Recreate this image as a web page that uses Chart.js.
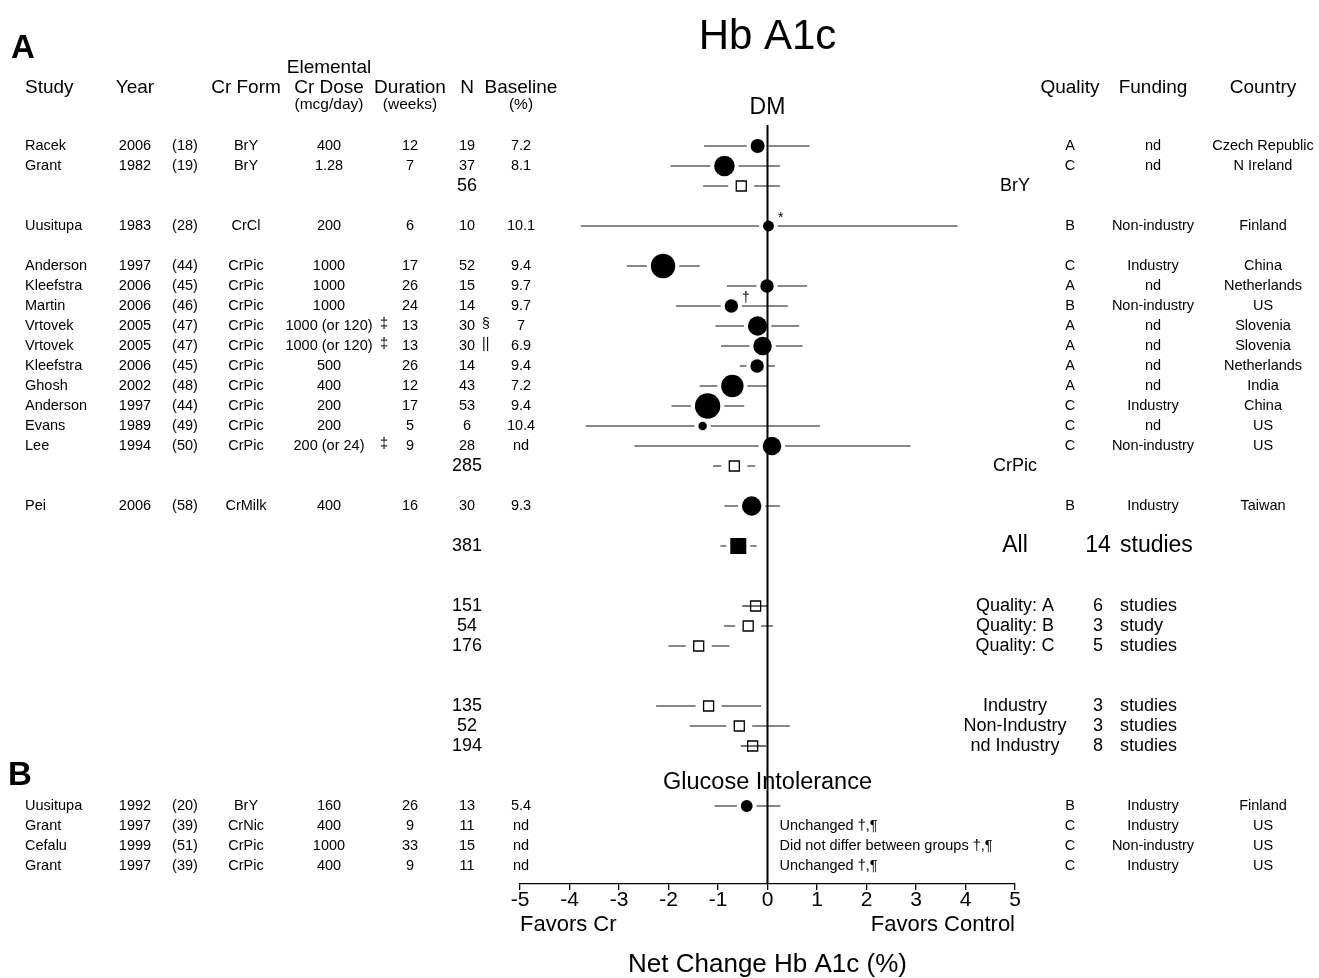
<!DOCTYPE html>
<html>
<head>
<meta charset="utf-8">
<script src="https://cdn.jsdelivr.net/npm/chart.js@4.4.1/dist/chart.umd.min.js"></script>
<style>
  html, body { margin: 0; background: #fff; }
  #wrap { width: 1319px; height: 978px; position: relative; }
</style>
</head>
<body>
<div id="wrap"><canvas id="forest"></canvas></div>
<script>
// ---- Panel A: DM studies, in plotted order ----
const dmStudy = ['Racek', 'Grant', 'Uusitupa', 'Anderson', 'Kleefstra', 'Martin', 'Vrtovek', 'Vrtovek', 'Kleefstra', 'Ghosh', 'Anderson', 'Evans', 'Lee', 'Pei'];
const dmYear = [2006, 1982, 1983, 1997, 2006, 2006, 2005, 2005, 2006, 2002, 1997, 1989, 1994, 2006];
const dmRef = [18, 19, 28, 44, 45, 46, 47, 47, 45, 48, 44, 49, 50, 58];
const dmForm = ['BrY', 'BrY', 'CrCl', 'CrPic', 'CrPic', 'CrPic', 'CrPic', 'CrPic', 'CrPic', 'CrPic', 'CrPic', 'CrPic', 'CrPic', 'CrMilk'];
const dmDose = ['400', '1.28', '200', '1000', '1000', '1000', '1000 (or 120)', '1000 (or 120)', '500', '400', '200', '200', '200 (or 24)', '400'];
const dmDoseNote = ['', '', '', '', '', '', '‡', '‡', '', '', '', '', '‡', ''];
const dmWeeks = [12, 7, 6, 17, 26, 24, 13, 13, 26, 12, 17, 5, 9, 16];
const dmN = [19, 37, 10, 52, 15, 14, 30, 30, 14, 43, 53, 6, 28, 30];
const dmNNote = ['', '', '', '', '', '', '§', '||', '', '', '', '', '', ''];
const dmBaseline = ['7.2', '8.1', '10.1', '9.4', '9.7', '9.7', '7', '6.9', '9.4', '7.2', '9.4', '10.4', 'nd', '9.3'];
const dmQuality = ['A', 'C', 'B', 'C', 'A', 'B', 'A', 'A', 'A', 'A', 'C', 'C', 'C', 'B'];
const dmFunding = ['nd', 'nd', 'Non-industry', 'Industry', 'nd', 'Non-industry', 'nd', 'nd', 'nd', 'nd', 'Industry', 'nd', 'Non-industry', 'Industry'];
const dmCountry = ['Czech Republic', 'N Ireland', 'Finland', 'China', 'Netherlands', 'US', 'Slovenia', 'Slovenia', 'Netherlands', 'India', 'China', 'US', 'US', 'Taiwan'];
const dmMean = [-0.2, -0.87, 0.02, -2.11, -0.01, -0.73, -0.2, -0.1, -0.21, -0.71, -1.21, -1.31, 0.09, -0.32];
const dmLow = [-1.28, -1.96, -3.77, -2.84, -0.82, -1.85, -1.05, -0.94, -0.56, -1.37, -1.94, -3.67, -2.69, -0.87];
const dmHigh = [0.85, 0.25, 3.84, -1.37, 0.8, 0.41, 0.64, 0.71, 0.15, 0.0, -0.47, 1.06, 2.89, 0.25];
const dmWeight = [49, 106, 30, 149, 45, 45, 94, 86, 45, 125, 161, 18, 86, 94]; // marker area
const dmMark = ['', '', '*', '', '', '†', '', '', '', '', '', '', '', ''];
const formOrder = ['BrY', 'CrCl', 'CrPic', 'CrMilk'];

// pooled by Cr form
const poolLabel = ['BrY', 'CrPic'];
const poolN = [56, 285];
const poolMean = [-0.53, -0.67];
const poolLow = [-1.3, -1.1];
const poolHigh = [0.25, -0.25];

// all studies
const allN = 381;
const allStudies = 14;
const allMean = -0.59;
const allLow = -0.95;
const allHigh = -0.22;

// subgroups
const subLabel = ['Quality: A', 'Quality: B', 'Quality: C', 'Industry', 'Non-Industry', 'nd Industry'];
const subBlock = [0, 0, 0, 1, 1, 1];
const subN = [151, 54, 176, 135, 52, 194];
const subCount = [6, 3, 5, 3, 3, 8];
const subWord = ['studies', 'study', 'studies', 'studies', 'studies', 'studies'];
const subMean = [-0.24, -0.39, -1.39, -1.19, -0.57, -0.3];
const subLow = [-0.51, -0.88, -2.0, -2.25, -1.57, -0.54];
const subHigh = [0.0, 0.11, -0.77, -0.13, 0.45, -0.03];

// ---- Panel B: glucose intolerance ----
const giStudy = ['Uusitupa', 'Grant', 'Cefalu', 'Grant'];
const giYear = [1992, 1997, 1999, 1997];
const giRef = [20, 39, 51, 39];
const giForm = ['BrY', 'CrNic', 'CrPic', 'CrPic'];
const giDose = ['160', '400', '1000', '400'];
const giWeeks = [26, 9, 33, 9];
const giN = [13, 11, 15, 11];
const giBaseline = ['5.4', 'nd', 'nd', 'nd'];
const giQuality = ['B', 'C', 'C', 'C'];
const giFunding = ['Industry', 'Industry', 'Non-industry', 'Industry'];
const giCountry = ['Finland', 'US', 'US', 'US'];
const giMean = [-0.42, null, null, null];
const giLow = [-1.07, null, null, null];
const giHigh = [0.26, null, null, null];
const giWeight = [35, 0, 0, 0];
const giNote = ['', 'Unchanged †,¶', 'Did not differ between groups †,¶', 'Unchanged †,¶'];

const xTickValues = [-5, -4, -3, -2, -1, 0, 1, 2, 3, 4, 5];

// ---- row layout (one row per line of the table) ----
const dmRow = [], poolRow = [], subRow = [], giRow = [];
let k = 0;
formOrder.forEach(f => {
  dmForm.forEach((v, i) => { if (v === f) dmRow[i] = ++k; });
  const p = poolLabel.indexOf(f);
  if (p >= 0) poolRow[p] = ++k;
  k++;
});
const allRow = ++k;
k += 2;
subLabel.forEach((_, i) => {
  if (i > 0 && subBlock[i] !== subBlock[i - 1]) k += 2;
  subRow[i] = ++k;
});
k += 2;
giStudy.forEach((_, i) => { giRow[i] = ++k; });
const axisRow = k + 0.9;

const family = '"Liberation Sans", Arial, Helvetica, sans-serif';

// ---- marks ----
const marks = [];
dmMean.forEach((m, i) => marks.push({ x: m, y: dmRow[i], lo: dmLow[i], hi: dmHigh[i], shape: 'dot', w: dmWeight[i] }));
poolMean.forEach((m, i) => marks.push({ x: m, y: poolRow[i], lo: poolLow[i], hi: poolHigh[i], shape: 'open' }));
marks.push({ x: allMean, y: allRow, lo: allLow, hi: allHigh, shape: 'solid' });
subMean.forEach((m, i) => marks.push({ x: m, y: subRow[i], lo: subLow[i], hi: subHigh[i], shape: 'open' }));
giMean.forEach((m, i) => { if (m !== null) marks.push({ x: m, y: giRow[i], lo: giLow[i], hi: giHigh[i], shape: 'dot', w: giWeight[i] }); });

const SQ = Math.SQRT2;
const radiusOf = mk => mk.shape === 'dot' ? Math.sqrt(mk.w) : mk.shape === 'open' ? 10 / SQ : 16 / SQ;
const haloOf = mk => {
  if (mk.hi - mk.lo < 0.6) return 0;
  if (mk.shape === 'dot') return Math.sqrt(mk.w) + 4;
  if (mk.shape === 'open') return 26 / SQ;
  return 24 / SQ;
};

const ciSets = marks.map(mk => ({
  data: [{ x: mk.lo, y: mk.y }, { x: mk.hi, y: mk.y }],
  showLine: true, borderColor: '#111', borderWidth: 1.2, pointRadius: 0, order: 5
}));

const haloSet = {
  data: marks.map(mk => ({ x: mk.x, y: mk.y })),
  pointRadius: marks.map(haloOf),
  pointStyle: marks.map(mk => mk.shape === 'dot' ? 'circle' : 'rect'),
  pointBackgroundColor: '#fff', pointBorderWidth: 0, order: 4
};

const zeroSet = {
  data: [{ x: 0, y: -0.05 }, { x: 0, y: axisRow }],
  showLine: true, borderColor: '#000', borderWidth: 2, pointRadius: 0, order: 3
};

const markSet = {
  data: marks.map(mk => ({ x: mk.x, y: mk.y })),
  pointRadius: marks.map(radiusOf),
  pointStyle: marks.map(mk => mk.shape === 'dot' ? 'circle' : 'rect'),
  pointBackgroundColor: marks.map(mk => mk.shape === 'open' ? 'rgba(0,0,0,0)' : '#000'),
  pointBorderColor: '#000',
  pointBorderWidth: marks.map(mk => mk.shape === 'open' ? 1.3 : 0),
  order: 1
};

// ---- all the table text ----
const COL = { study: 25, year: 135, ref: 185, form: 246, dose: 329, doseNote: 384, weeks: 410, n: 467, nNote: 482,
  base: 521, quality: 1070, funding: 1153, country: 1263, group: 1015, count: 1098, word: 1120 };

const forestText = {
  id: 'forestText',
  afterDraw(chart) {
    const { ctx } = chart;
    const xs = chart.scales.x, ys = chart.scales.y;
    const Y = v => ys.getPixelForValue(v);
    const X = v => xs.getPixelForValue(v);
    const put = (s, x, y, size, align = 'center', weight = 'normal') => {
      ctx.font = `${weight} ${size}px ${family}`;
      ctx.textAlign = align;
      ctx.textBaseline = 'middle';
      ctx.fillStyle = '#000';
      ctx.fillText(String(s), x, y);
    };
    ctx.save();

    put('Hb A1c', X(0), Y(-4.45), 42);
    put('A', 11, Y(-3.85), 33, 'left', 'bold');
    put('B', 8, Y(32.5), 33, 'left', 'bold');

    // headers
    const h = Y(-1.9), h2 = Y(-1.05);
    put('Study', COL.study, h, 19, 'left');
    put('Year', COL.year, h, 19);
    put('Cr Form', COL.form, h, 19);
    put('Elemental', COL.dose, Y(-2.9), 19);
    put('Cr Dose', COL.dose, h, 19);
    put('(mcg/day)', COL.dose, h2, 15.5);
    put('Duration', COL.weeks, h, 19);
    put('(weeks)', COL.weeks, h2, 15.5);
    put('N', COL.n, h, 19);
    put('Baseline', COL.base, h, 19);
    put('(%)', COL.base, h2, 15.5);
    put('Quality', COL.quality, h, 19);
    put('Funding', COL.funding, h, 19);
    put('Country', COL.country, h, 19);
    put('DM', X(0), Y(-0.9), 23);

    const row = (r, name, yr, ref, form, dose, wk, n, base, q, fund, ctry) => {
      const y = Y(r), fs = 14.5;
      put(name, COL.study, y, fs, 'left');
      put(yr, COL.year, y, fs);
      put(`(${ref})`, COL.ref, y, fs);
      put(form, COL.form, y, fs);
      put(dose, COL.dose, y, fs);
      put(wk, COL.weeks, y, fs);
      put(n, COL.n, y, fs);
      put(base, COL.base, y, fs);
      put(q, COL.quality, y, fs);
      put(fund, COL.funding, y, fs);
      put(ctry, COL.country, y, fs);
    };

    dmStudy.forEach((s, i) => {
      row(dmRow[i], s, dmYear[i], dmRef[i], dmForm[i], dmDose[i], dmWeeks[i], dmN[i], dmBaseline[i], dmQuality[i], dmFunding[i], dmCountry[i]);
      if (dmDoseNote[i]) put(dmDoseNote[i], COL.doseNote, Y(dmRow[i]) - 2, 14.5);
      if (dmNNote[i]) put(dmNNote[i], COL.nNote, Y(dmRow[i]) - 2, 14, 'left');
      if (dmMark[i]) put(dmMark[i], X(dmMean[i]) + Math.sqrt(dmWeight[i]) + 4, Y(dmRow[i]) - 8, 14, 'left');
    });

    poolLabel.forEach((s, i) => {
      put(poolN[i], COL.n, Y(poolRow[i]), 18);
      put(s, COL.group, Y(poolRow[i]), 18);
    });

    put(allN, COL.n, Y(allRow), 18);
    put('All', COL.group, Y(allRow), 23);
    put(allStudies, COL.count, Y(allRow), 23);
    put('studies', COL.word, Y(allRow), 23, 'left');

    subLabel.forEach((s, i) => {
      const y = Y(subRow[i]);
      put(subN[i], COL.n, y, 18);
      put(s, COL.group, y, 18);
      put(subCount[i], COL.count, y, 18);
      put(subWord[i], COL.word, y, 18, 'left');
    });

    put('Glucose Intolerance', X(0), Y(giRow[0] - 1.15), 23.5);
    giStudy.forEach((s, i) => {
      row(giRow[i], s, giYear[i], giRef[i], giForm[i], giDose[i], giWeeks[i], giN[i], giBaseline[i], giQuality[i], giFunding[i], giCountry[i]);
      if (giNote[i]) put(giNote[i], X(0) + 12, Y(giRow[i]), 14.5, 'left');
    });

    const fy = xs.bottom - 53;
    put('Favors Cr', X(-5), fy, 22, 'left');
    put('Favors Control', X(5), fy, 22, 'right');

    ctx.restore();
  }
};

new Chart(document.getElementById('forest'), {
  type: 'scatter',
  data: { datasets: [...ciSets, haloSet, zeroSet, markSet] },
  options: {
    responsive: true,
    maintainAspectRatio: false,
    devicePixelRatio: 1,
    animation: false,
    events: [],
    layout: { padding: { left: 520, right: 304, top: 106, bottom: 0 } },
    plugins: { legend: { display: false }, tooltip: { enabled: false } },
    scales: {
      x: {
        type: 'linear', min: -5, max: 5,
        afterBuildTicks: s => { s.ticks = xTickValues.map(v => ({ value: v })); },
        afterFit: s => { s.height = 94; },
        grid: { drawOnChartArea: false, drawTicks: true, tickLength: 6, color: '#000', lineWidth: 1.3 },
        border: { display: true, color: '#000', width: 1.3 },
        ticks: { color: '#000', font: { size: 21, family }, padding: -2, maxRotation: 0, autoSkip: false },
        title: { display: true, text: 'Net Change Hb A1c (%)', color: '#000', font: { size: 26, family }, padding: { top: 0, bottom: -2 } }
      },
      y: { type: 'linear', reverse: true, min: -1, max: axisRow, display: false }
    }
  },
  plugins: [forestText]
});
</script>
</body>
</html>
